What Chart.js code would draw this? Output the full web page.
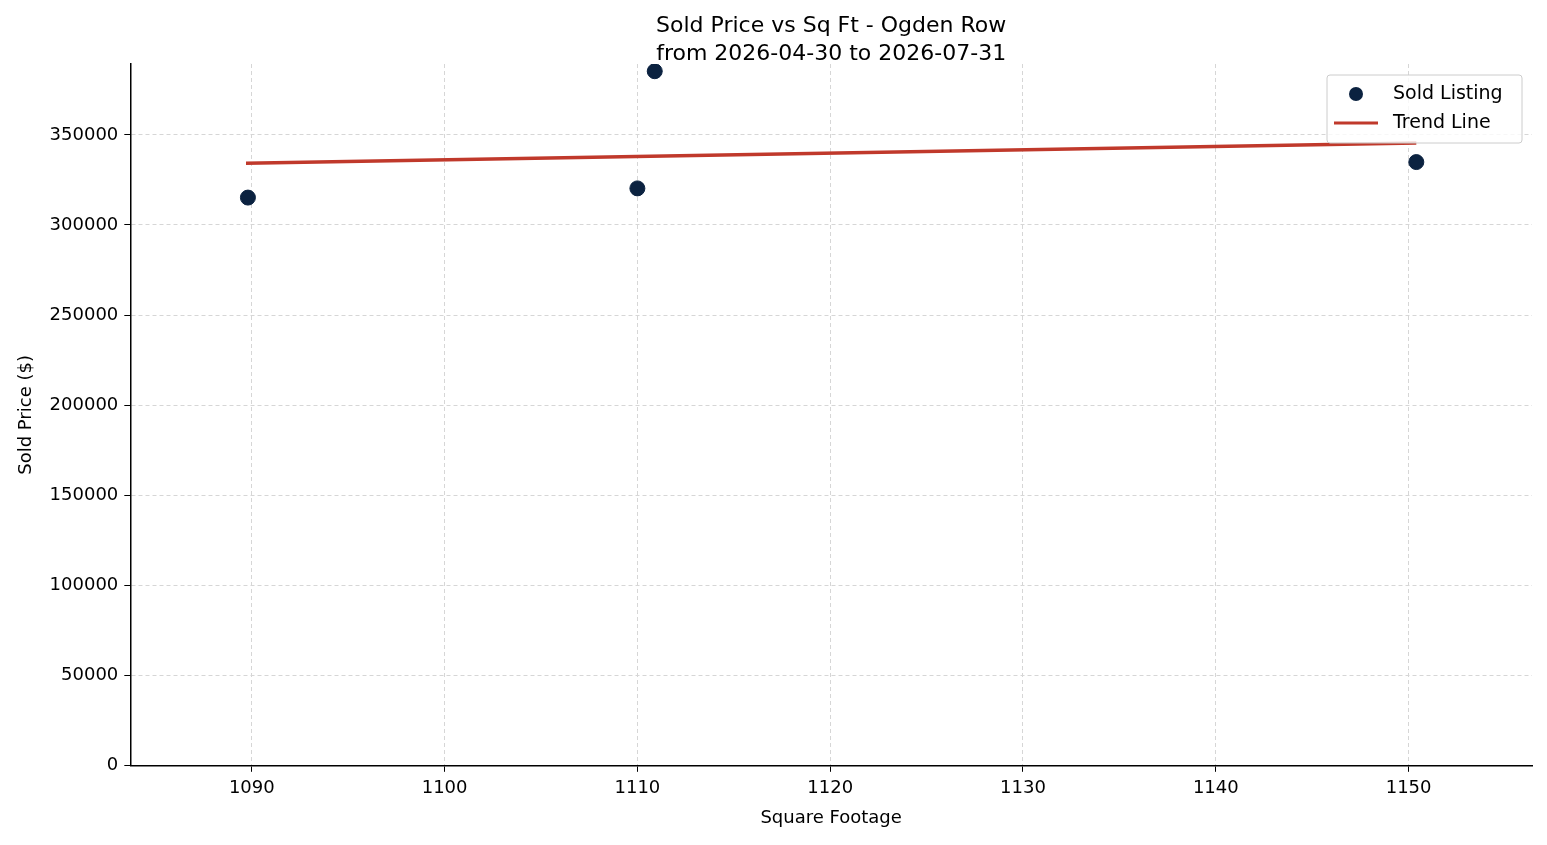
<!DOCTYPE html>
<html><head><meta charset="utf-8">
<script src="https://cdn.jsdelivr.net/npm/chart.js@4/dist/chart.umd.min.js"></script>
<style>html,body{margin:0;padding:0;background:#fff}#w{width:1547px;height:845px}</style>
</head><body><div id="w"><canvas id="c"></canvas></div>
<script>
const titleLines = ["Sold Price vs Sq Ft - Ogden Row", "from 2026-04-30 to 2026-07-31"];
const soldSqft = [1089.8, 1110.0, 1110.9, 1150.4];
const soldPrice = [315200, 320300, 385300, 334900];
const trendSqft = [1089.7, 1150.4];
const trendPrice = [334300, 345500];
const xTicks = [1090, 1100, 1110, 1120, 1130, 1140, 1150];
const yTicks = [0, 50000, 100000, 150000, 200000, 250000, 300000, 350000];
const F = "'DejaVu Sans', sans-serif";

const extraPlugin = {
  id: 'extra',
  afterDraw(chart) {
    const ctx = chart.ctx, a = chart.chartArea;
    ctx.save();
    ctx.fillStyle = '#000'; ctx.font = "22px " + F; ctx.textAlign = 'center'; ctx.textBaseline = 'middle';
    const cx = (a.left + a.right) / 2;
    ctx.fillText(titleLines[0], cx, 26);
    ctx.fillText(titleLines[1], cx, 54);
    ctx.textAlign = 'left';
    const w = 195, h = 68, x = a.right - w - 10, y = a.top + 11;
    ctx.fillStyle = 'rgba(255,255,255,0.8)';
    ctx.strokeStyle = '#cccccc'; ctx.lineWidth = 1;
    ctx.beginPath(); ctx.roundRect(x, y, w, h, 3); ctx.fill(); ctx.stroke();
    ctx.fillStyle = '#0b2240';
    ctx.beginPath(); ctx.arc(x + 29, y + 19, 7, 0, Math.PI * 2); ctx.fill();
    ctx.strokeStyle = '#c0392b'; ctx.lineWidth = 3;
    ctx.beginPath(); ctx.moveTo(x + 7, y + 48); ctx.lineTo(x + 51, y + 48); ctx.stroke();
    ctx.fillStyle = '#000'; ctx.font = "19px " + F;
    ctx.fillText(chart.data.datasets[0].label, x + 66, y + 19);
    ctx.fillText(chart.data.datasets[1].label, x + 66, y + 48);
    ctx.restore();
  }
};

new Chart(document.getElementById('c'), {
  type: 'scatter',
  data: { datasets: [
    { label: 'Sold Listing', data: soldSqft.map((x, i) => ({x, y: soldPrice[i]})),
      backgroundColor: '#0b2240', borderColor: '#0b2240', pointRadius: 7.5, order: 1 },
    { label: 'Trend Line', type: 'line', data: trendSqft.map((x, i) => ({x, y: trendPrice[i]})),
      borderColor: '#c0392b', borderWidth: 3.5, pointRadius: 0, fill: false, order: 2 }
  ]},
  options: {
    animation: false, responsive: true, maintainAspectRatio: false,
    layout: { padding: { left: 12, right: 15, top: 64, bottom: 12 } },
    plugins: { legend: { display: false }, tooltip: { enabled: false }, title: { display: false } },
    scales: {
      x: { type: 'linear', min: 1083.7, max: 1156.4,
        afterBuildTicks: s => { s.ticks = xTicks.map(v => ({value: v})); },
        title: { display: true, text: 'Square Footage', color: '#000', font: { family: F, size: 18 }, padding: { top: 2 } },
        ticks: { color: '#000', font: { family: F, size: 18 }, padding: 6, maxRotation: 0, callback: v => String(v) },
        grid: { color: '#d6d6d6', lineWidth: 1, tickLength: 6, tickColor: '#000' },
        border: { color: '#000', width: 1.5, dash: [4, 3] } },
      y: { type: 'linear', min: 0, max: 389300,
        afterBuildTicks: s => { s.ticks = yTicks.map(v => ({value: v})); },
        title: { display: true, text: 'Sold Price ($)', color: '#000', font: { family: F, size: 18 }, padding: { bottom: 6 } },
        ticks: { color: '#000', font: { family: F, size: 18 }, padding: 6, callback: v => String(v) },
        grid: { color: '#d6d6d6', lineWidth: 1, tickLength: 6, tickColor: '#000' },
        border: { color: '#000', width: 1.5, dash: [4, 3] } }
    }
  },
  plugins: [extraPlugin]
});
</script></body></html>
